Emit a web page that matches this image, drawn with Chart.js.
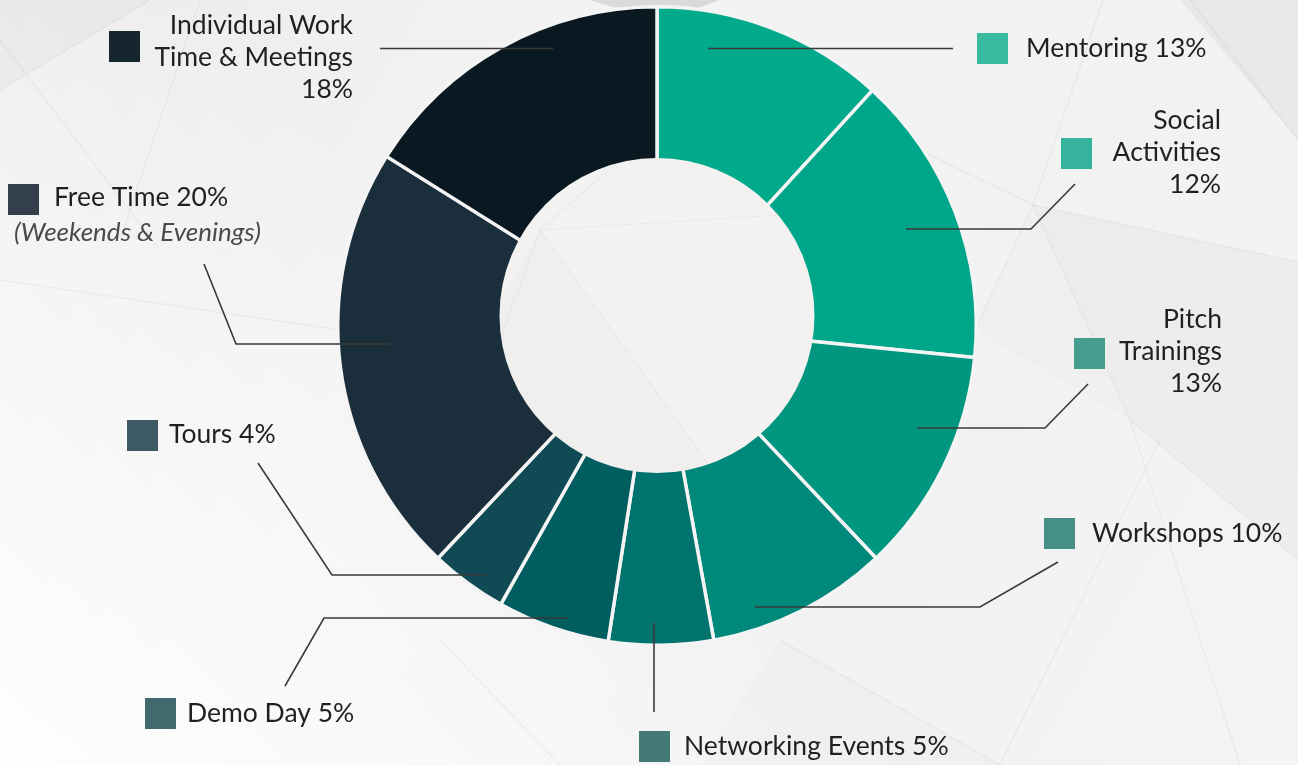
<!DOCTYPE html>
<html>
<head>
<meta charset="utf-8">
<script src="https://cdn.jsdelivr.net/npm/chart.js@4.4.1/dist/chart.umd.min.js"></script>
<style>
  html, body { margin: 0; padding: 0; background: #f2f2f2; }
  #wrap { position: relative; width: 1298px; height: 765px; overflow: hidden; }
  canvas { display: block; }
</style>
</head>
<body>
<div id="wrap"><canvas id="c" width="1298" height="765"></canvas></div>
<script>
// ---- data ----
const categories = ["Mentoring", "Social Activities", "Pitch Trainings", "Workshops",
  "Networking Events", "Demo Day", "Tours", "Free Time", "Individual Work Time & Meetings"];
// percentages as printed on the labels
const labelPercents = [13, 12, 13, 10, 5, 5, 4, 20, 18];
// slice shares as drawn in the picture (measured angles, in % of the circle)
const sliceShares = [11.8, 14.8, 11.4, 9.2, 5.3, 5.7, 3.9, 21.9, 16.1];

// ---- styles ----
const sliceColors = ["#00aa8b", "#00a68a", "#00967f", "#00897a", "#00736f",
  "#005e61", "#0f4a55", "#1b2e3b", "#0a1921"];
const swatchColors = ["#3abb9f", "#36b39c", "#479e8e", "#468f87", "#437a76",
  "#406a6e", "#3d5a65", "#333f4b", "#15262f"];

// label layout: lines of text, alignment, anchor, swatch position, leader polyline
const labelLayout = [
  { lines: ["Mentoring " + labelPercents[0] + "%"], align: "left", x: 1026, y: 57, sw: [977, 33],
    leader: [[708, 48.5], [953, 48.5]] },
  { lines: ["Social", "Activities", labelPercents[1] + "%"], align: "right", x: 1221, y: 129, sw: [1061, 138],
    leader: [[906, 229], [1031, 229], [1075, 184]] },
  { lines: ["Pitch", "Trainings", labelPercents[2] + "%"], align: "right", x: 1222, y: 328, sw: [1074, 338],
    leader: [[917, 428], [1045, 428], [1088, 384]] },
  { lines: ["Workshops " + labelPercents[3] + "%"], align: "left", x: 1092, y: 542, sw: [1044, 518],
    leader: [[755, 607], [980, 607], [1058, 562]] },
  { lines: ["Networking Events " + labelPercents[4] + "%"], align: "left", x: 684, y: 755, sw: [639, 731],
    leader: [[654, 623], [654, 712]] },
  { lines: ["Demo Day " + labelPercents[5] + "%"], align: "left", x: 187, y: 722, sw: [145, 698],
    leader: [[568, 618], [324, 618], [285, 686]] },
  { lines: ["Tours " + labelPercents[6] + "%"], align: "left", x: 169, y: 443, sw: [127, 420],
    leader: [[487, 575], [332, 575], [258, 463]] },
  { lines: ["Free Time " + labelPercents[7] + "%"], sub: "(Weekends & Evenings)", align: "left", x: 54, y: 206, sw: [8, 184],
    leader: [[391, 344], [236, 344], [204, 264]] },
  { lines: ["Individual Work", "Time & Meetings", labelPercents[8] + "%"], align: "right", x: 353, y: 34, sw: [109, 31],
    leader: [[380, 48.5], [553, 48.5]] }
];

const HOLE = { x: 657, y: 315.5, r: 157.5 };

function drawBackground(ctx, w, h) {
  ctx.save();
  const g = ctx.createLinearGradient(0, 0, w, h);
  g.addColorStop(0, "#ebebeb");
  g.addColorStop(0.35, "#f3f3f3");
  g.addColorStop(0.7, "#f2f2f2");
  g.addColorStop(1, "#f4f4f4");
  ctx.fillStyle = g;
  ctx.fillRect(0, 0, w, h);
  const g2 = ctx.createLinearGradient(0, h, 500, 300);
  g2.addColorStop(0, "rgba(255,255,255,0.9)");
  g2.addColorStop(1, "rgba(255,255,255,0)");
  ctx.fillStyle = g2;
  ctx.fillRect(0, 0, w, h);
  const polys = [
    { p: [[0,0],[150,0],[0,90]], c: "rgba(0,0,0,0.025)" },
    { p: [[590,0],[720,0],[660,22]], c: "rgba(0,0,0,0.10)" },
    { p: [[1180,0],[1298,0],[1298,140]], c: "rgba(0,0,0,0.04)" },
    { p: [[1033,205],[1298,262],[1298,560],[1130,420]], c: "rgba(0,0,0,0.025)" },
    { p: [[1033,205],[1130,420],[975,330]], c: "rgba(0,0,0,0.012)" },
    { p: [[780,640],[1000,765],[700,765]], c: "rgba(0,0,0,0.012)" }
  ];
  polys.forEach(o => {
    ctx.beginPath();
    o.p.forEach((pt, i) => i ? ctx.lineTo(pt[0], pt[1]) : ctx.moveTo(pt[0], pt[1]));
    ctx.closePath();
    ctx.fillStyle = o.c;
    ctx.fill();
  });
  const lines = [
    [[1103,0],[1033,205]], [[1033,205],[920,150]], [[1033,205],[1298,262]],
    [[1033,205],[1130,420]], [[1033,205],[975,330]], [[1190,0],[1298,140]],
    [[1130,420],[1298,560]], [[1130,420],[1240,765]], [[1160,440],[1000,765]],
    [[0,90],[150,0]], [[0,40],[160,250]], [[200,0],[120,240]],
    [[780,640],[1000,765]], [[440,640],[560,765]], [[0,280],[340,330]]
  ];
  ctx.strokeStyle = "rgba(0,0,0,0.04)";
  ctx.lineWidth = 1.5;
  lines.forEach(l => {
    ctx.beginPath(); ctx.moveTo(l[0][0], l[0][1]); ctx.lineTo(l[1][0], l[1][1]); ctx.stroke();
  });
  ctx.restore();
}

const decoPlugin = {
  id: "deco",
  beforeDraw(chart) {
    drawBackground(chart.ctx, chart.width, chart.height);
  },
  afterDatasetsDraw(chart) {
    const ctx = chart.ctx;
    ctx.save();
    ctx.beginPath();
    ctx.arc(HOLE.x, HOLE.y, HOLE.r, 0, Math.PI * 2);
    ctx.fillStyle = "#f3f2f1";
    ctx.fill();
    ctx.clip();
    ctx.beginPath();
    ctx.moveTo(540, 230); ctx.lineTo(720, 480); ctx.lineTo(400, 480); ctx.closePath();
    ctx.fillStyle = "rgba(0,0,0,0.012)";
    ctx.fill();
    ctx.strokeStyle = "rgba(0,0,0,0.04)";
    ctx.lineWidth = 1.2;
    ctx.beginPath(); ctx.moveTo(540, 230); ctx.lineTo(720, 480); ctx.stroke();
    ctx.beginPath(); ctx.moveTo(540, 230); ctx.lineTo(780, 215); ctx.stroke();
    ctx.beginPath(); ctx.moveTo(540, 230); ctx.lineTo(500, 340); ctx.stroke();
    ctx.beginPath(); ctx.moveTo(540, 230); ctx.lineTo(620, 160); ctx.stroke();
    ctx.restore();
  },
  afterDraw(chart) {
    const ctx = chart.ctx;
    ctx.save();
    // leader lines
    ctx.strokeStyle = "#3a3a3a";
    ctx.lineWidth = 1.6;
    ctx.lineJoin = "miter";
    labelLayout.forEach(L => {
      ctx.beginPath();
      L.leader.forEach((pt, i) => i ? ctx.lineTo(pt[0], pt[1]) : ctx.moveTo(pt[0], pt[1]));
      ctx.stroke();
    });
    // swatches and text
    labelLayout.forEach((L, i) => {
      ctx.fillStyle = swatchColors[i];
      ctx.fillRect(L.sw[0], L.sw[1], 31, 31);
      ctx.fillStyle = "#231f20";
      ctx.font = "26.5px Lato, 'Open Sans', sans-serif";
      ctx.textAlign = L.align;
      ctx.textBaseline = "alphabetic";
      L.lines.forEach((t, k) => ctx.fillText(t, L.x, L.y + k * 32.2));
      if (L.sub) {
        ctx.font = "italic 26px Lato, 'Open Sans', sans-serif";
        ctx.fillStyle = "#4a4a4a";
        ctx.textAlign = "left";
        ctx.fillText(L.sub, 14, L.y + 35);
      }
    });
    ctx.restore();
  }
};

new Chart(document.getElementById("c"), {
  type: "doughnut",
  data: {
    labels: categories,
    datasets: [{
      data: sliceShares,
      backgroundColor: sliceColors,
      borderColor: "#f4f4f4",
      borderWidth: 3.5,
      hoverOffset: 0
    }]
  },
  options: {
    responsive: false,
    animation: false,
    devicePixelRatio: 1,
    cutout: "44%",
    rotation: 0,
    layout: { padding: { top: 5, bottom: 118, left: 16, right: 0 } },
    plugins: { legend: { display: false }, tooltip: { enabled: false } },
    events: []
  },
  plugins: [decoPlugin]
});
</script>
</body>
</html>
